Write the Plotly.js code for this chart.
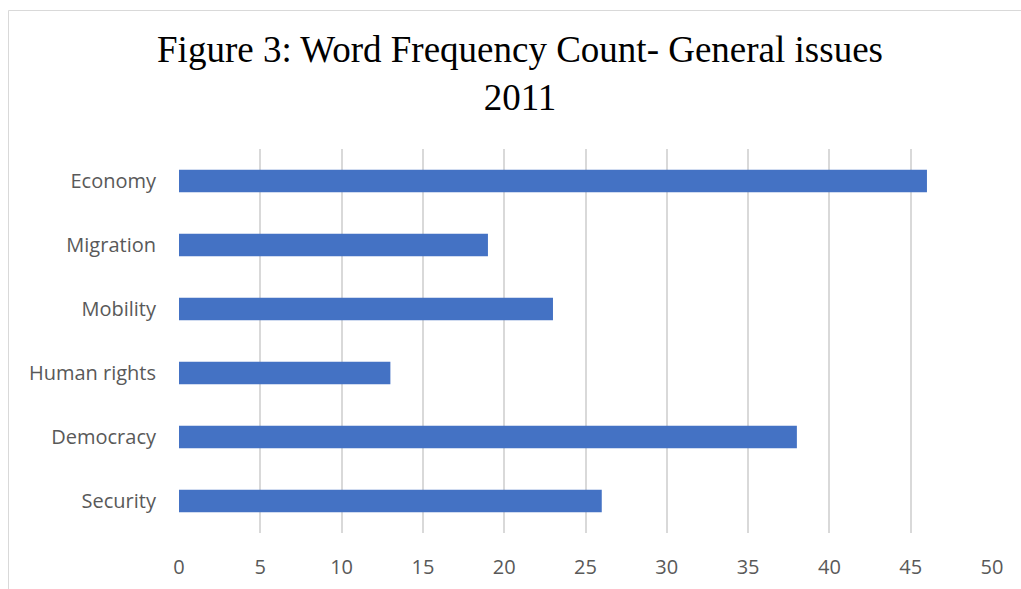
<!DOCTYPE html>
<html>
<head>
<meta charset="utf-8">
<script src="https://cdn.plot.ly/plotly-3.0.1.min.js"></script>
<style>
  html, body { margin: 0; padding: 0; background: #ffffff; }
  #chart { width: 1021px; height: 589px; }
</style>
</head>
<body>
<div id="chart"></div>
<script>
// Issue categories, listed top to bottom
const categories = ["Economy", "Migration", "Mobility", "Human rights", "Democracy", "Security"];
// Word counts per issue
const counts = [46, 19, 23, 13, 38, 26];
// Value-axis ticks
const tickValues = [0, 5, 10, 15, 20, 25, 30, 35, 40, 45, 50];

const W = 1021, H = 589;
const plotLeft = 179, plotRight = 992, plotTop = 149, plotBottom = 533;
const pw = plotRight - plotLeft, ph = plotBottom - plotTop;
const px = v => (v - plotLeft) / pw;
const py = v => (plotBottom - v) / ph;

const trace = {
  type: "bar",
  orientation: "h",
  x: counts,
  y: categories,
  width: 0.35,
  marker: { color: "#4472C4" },
  hoverinfo: "x+y"
};

const layout = {
  width: W,
  height: H,
  margin: { l: plotLeft, r: W - plotRight, t: plotTop, b: H - plotBottom, pad: 0 },
  paper_bgcolor: "#ffffff",
  plot_bgcolor: "#ffffff",
  showlegend: false,
  title: {
    text: "Figure 3: Word Frequency Count- General issues<br>2011",
    font: { family: "Liberation Serif, Times New Roman, serif", size: 37, color: "#000000" },
    xref: "container", yref: "container",
    x: 520 / W, xanchor: "center",
    y: 1 - 62 / H, yanchor: "top"
  },
  xaxis: {
    range: [0, 50],
    tickvals: tickValues,
    ticktext: tickValues.map(String),
    showgrid: true,
    gridcolor: "#d9d9d9",
    gridwidth: 2,
    zeroline: false,
    showline: false,
    ticks: "",
    ticklabelstandoff: 20,
    tickfont: { family: "Open Sans, sans-serif", size: 20, color: "#595959" },
    fixedrange: true
  },
  yaxis: {
    type: "category",
    categoryorder: "array",
    categoryarray: categories,
    autorange: "reversed",
    showgrid: false,
    zeroline: false,
    showline: false,
    ticks: "",
    ticklabelstandoff: 22,
    tickfont: { family: "Open Sans, sans-serif", size: 20, color: "#595959" },
    fixedrange: true
  },
  shapes: [
    { type: "line", xref: "paper", yref: "paper", layer: "below",
      x0: px(8.5), x1: px(1021), y0: py(10.5), y1: py(10.5),
      line: { color: "#d9d9d9", width: 1 } },
    { type: "line", xref: "paper", yref: "paper", layer: "below",
      x0: px(8.5), x1: px(8.5), y0: py(10.5), y1: py(589),
      line: { color: "#d9d9d9", width: 1 } }
  ]
};

Plotly.newPlot("chart", [trace], layout, { displayModeBar: false, staticPlot: true });
</script>
</body>
</html>
